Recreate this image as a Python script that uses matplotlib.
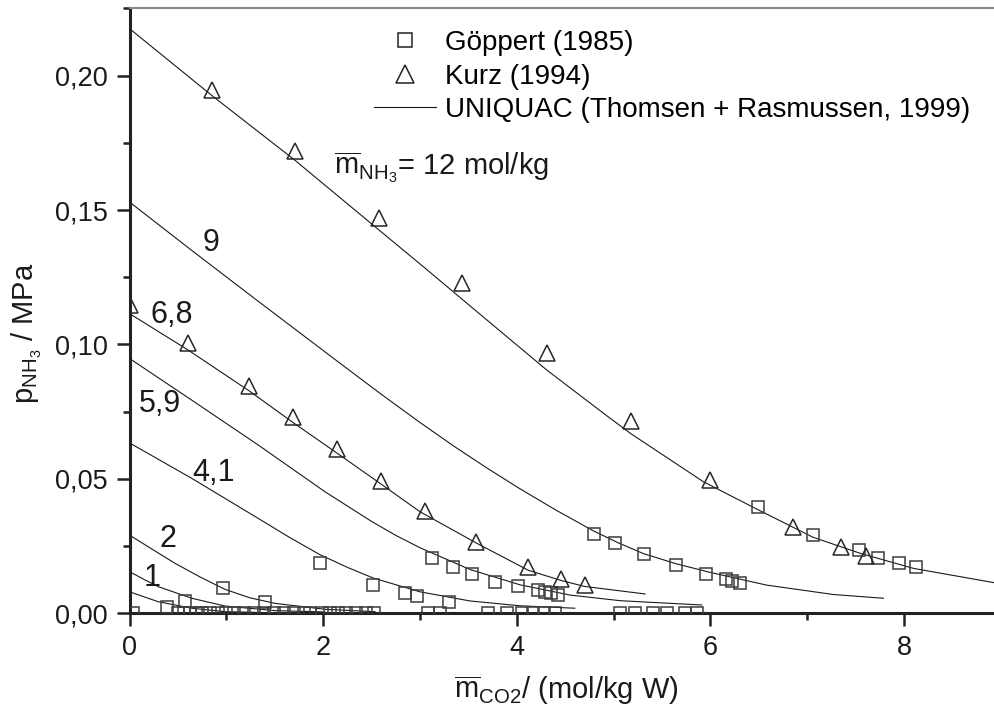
import matplotlib
matplotlib.use("Agg")
import matplotlib.pyplot as plt
from matplotlib.ticker import MultipleLocator, FuncFormatter
from matplotlib.lines import Line2D

plt.rcParams['font.family'] = 'Liberation Sans'
plt.rcParams['mathtext.fontset'] = 'custom'
plt.rcParams['mathtext.rm'] = 'Liberation Sans'
plt.rcParams['mathtext.it'] = 'Liberation Sans:italic'
plt.rcParams['mathtext.bf'] = 'Liberation Sans:bold'

# Göppert (1985): points above the axis
goeppert_x = [0.384, 0.573, 0.969, 1.40, 1.968, 2.519, 2.846, 2.97, 3.30,
              3.12, 3.34, 3.535, 3.78, 4.016, 4.22, 4.29, 4.35, 4.43,
              4.80, 5.01, 5.31, 5.64, 5.95, 6.16, 6.22, 6.31,
              6.496, 7.058, 7.54, 7.735, 7.95, 8.125]
goeppert_y = [0.0022, 0.0046, 0.0093, 0.0043, 0.0186, 0.0105, 0.0074, 0.0064, 0.0041,
              0.0204, 0.0173, 0.0146, 0.0115, 0.0103, 0.0086, 0.0078, 0.0074, 0.0069,
              0.0295, 0.0262, 0.0220, 0.0180, 0.0146, 0.0126, 0.0120, 0.0112,
              0.0394, 0.0291, 0.0235, 0.0204, 0.0186, 0.0171]

# Göppert (1985): points lying on p = 0
goeppert_zero_x = [0.036, 0.50, 0.56, 0.625, 0.687, 0.749, 0.832, 0.914, 0.997,
                   1.08, 1.183, 1.286, 1.39, 1.493, 1.596, 1.70, 1.80, 1.865,
                   1.99, 2.07, 2.154, 2.236, 2.34, 2.443, 2.526, 3.084, 3.208,
                   3.704, 3.90, 4.055, 4.168, 4.282, 4.396,
                   5.067, 5.222, 5.408, 5.553, 5.739, 5.863]
goeppert_zero_y = [0.0003] * len(goeppert_zero_x)

# Kurz (1994)
kurz_x = [0.0, 0.607, 1.234, 1.692, 2.147, 2.598, 3.053, 3.58, 4.12, 4.46, 4.70,
          0.855, 1.71, 2.58, 3.43, 4.31, 5.178, 6.0, 6.85, 7.35, 7.605]
kurz_y = [0.1146, 0.1006, 0.0846, 0.0731, 0.0611, 0.0492, 0.0381, 0.0266, 0.0173,
          0.0126, 0.0105,
          0.1945, 0.1720, 0.1472, 0.1227, 0.0967, 0.0716, 0.0495, 0.0322, 0.0248,
          0.0213]

# UNIQUAC (Thomsen + Rasmussen, 1999), one curve per NH3 molality
uq12_x = [0, 0.855, 1.71, 2.58, 3.05, 3.43, 4.31, 4.93, 5.18, 5.93, 6.50,
          7.06, 7.55, 8.10, 8.93]
uq12_y = [0.2175, 0.1925, 0.1685, 0.1425, 0.1285, 0.1170, 0.0905, 0.0735, 0.0668,
          0.0489, 0.0384, 0.0283, 0.0223, 0.0167, 0.0114]
uq9_x = [0, 0.65, 1.314, 2.157, 2.6, 3.0, 3.35, 3.69, 4.03, 4.4, 4.79, 5.05, 5.31,
         5.64, 6.0, 6.58, 7.27, 7.787]
uq9_y = [0.1530, 0.1348, 0.1165, 0.0935, 0.0815, 0.0710, 0.0622, 0.0541, 0.0464,
         0.0385, 0.0307, 0.0262, 0.0222, 0.0185, 0.0152, 0.0105, 0.0070, 0.0056]
uq68_x = [0, 0.607, 1.234, 1.692, 2.147, 2.598, 3.0, 3.58, 4.12, 4.46, 4.70, 5.325]
uq68_y = [0.1115, 0.0979, 0.0828, 0.0709, 0.0595, 0.0481, 0.0378, 0.0262, 0.0160,
          0.0122, 0.0100, 0.0072]
uq59_x = [0, 0.643, 1.33, 2.02, 2.5, 2.75, 3.0, 3.517, 4.034, 4.55, 5.067, 5.91]
uq59_y = [0.0948, 0.0793, 0.0626, 0.0452, 0.0342, 0.0290, 0.0244, 0.0163, 0.0106,
          0.0068, 0.0047, 0.0031]
uq41_x = [0, 0.643, 1.33, 1.65, 1.968, 2.25, 2.519, 3.0, 3.517, 4.034, 4.6]
uq41_y = [0.0634, 0.0502, 0.0353, 0.0283, 0.0218, 0.0171, 0.0131, 0.0080, 0.0046,
          0.0028, 0.0019]
uq2_x = [0, 0.24, 0.47, 0.73, 0.987, 1.24, 1.503, 2.02, 2.536]
uq2_y = [0.0291, 0.0237, 0.0186, 0.0135, 0.0089, 0.0058, 0.0037, 0.0015, 0.0006]
uq1_x = [0, 0.15, 0.298, 0.643, 0.987, 1.503, 2.02]
uq1_y = [0.0155, 0.0126, 0.0099, 0.0056, 0.0027, 0.0010, 0.0005]
uq05_x = [0, 0.298, 0.643, 0.987, 1.5]
uq05_y = [0.0080, 0.0043, 0.0019, 0.0006, 0.0002]

curve_labels = ["9", "6,8", "5,9", "4,1", "2", "1"]
curve_label_x = [0.842, 0.436, 0.315, 0.866, 0.401, 0.230]
curve_label_y = [0.1378, 0.1109, 0.0778, 0.0523, 0.0275, 0.0130]

fig = plt.figure(figsize=(9.94, 7.18), dpi=100)
ax = fig.add_axes([0.1303, 0.1458, 0.8697, 0.9882 - 0.1458])

curves = [(uq12_x, uq12_y), (uq9_x, uq9_y), (uq68_x, uq68_y), (uq59_x, uq59_y),
          (uq41_x, uq41_y), (uq2_x, uq2_y), (uq1_x, uq1_y), (uq05_x, uq05_y)]
for cx, cy in curves:
    ax.plot(cx, cy, color='#1a1a1a', lw=0.8, zorder=2)

sq_style = dict(ls='none', marker='s', ms=8.6, mfc='none', mec='#3c3c3c', mew=1.1, zorder=3)
ax.plot(goeppert_x, goeppert_y, **sq_style)
ax.plot(goeppert_zero_x, goeppert_zero_y, **sq_style)
ax.plot(kurz_x, kurz_y, ls='none', marker='^', ms=11, mfc='none', mec='#262626',
        mew=1.1, zorder=3)

for txt, tx, ty in zip(curve_labels, curve_label_x, curve_label_y):
    ax.text(tx, ty, txt, fontsize=22, ha='center', va='center', color='#1a1a1a')
ax.text(2.11, 0.166, r'$\overline{\mathrm{m}}_{\mathrm{NH_3}}$= 12 mol/kg', fontsize=21,
        ha='left', va='center', color='#1a1a1a')

ax.set_xlim(0, 8.93)
ax.set_ylim(0, 0.225)
ax.xaxis.set_major_locator(MultipleLocator(2))
ax.xaxis.set_minor_locator(MultipleLocator(1))
ax.yaxis.set_major_locator(MultipleLocator(0.05))
ax.yaxis.set_minor_locator(MultipleLocator(0.025))
ax.yaxis.set_major_formatter(FuncFormatter(lambda v, p: f"{v:.2f}".replace('.', ',')))
ax.xaxis.set_major_formatter(FuncFormatter(lambda v, p: f"{v:.0f}"))

ax.tick_params(which='major', direction='out', length=9.5, width=1.8, color='#222222',
               labelsize=19.5, pad=6, labelcolor='#1a1a1a')
ax.tick_params(which='minor', direction='out', length=5, width=1.8, color='#222222')

ax.spines['right'].set_visible(False)
ax.spines['top'].set_color('#888888')
ax.spines['top'].set_linewidth(1.5)
for s in ('left', 'bottom'):
    ax.spines[s].set_color('#222222')
    ax.spines[s].set_linewidth(2.2)

ax.set_xlabel(r'$\overline{\mathrm{m}}_{\mathrm{CO2}}$/ (mol/kg W)', fontsize=21, color='#1a1a1a')
ax.set_ylabel(r'$\mathrm{p_{NH_3}}$ / MPa', fontsize=21, color='#1a1a1a')
ax.xaxis.set_label_coords(0.505, -0.1)
ax.yaxis.set_label_coords(-0.099, 0.463)

handles = [
    Line2D([], [], ls='none', marker='s', ms=10.5, mfc='none', mec='#222222', mew=1.1),
    Line2D([], [], ls='none', marker='^', ms=13.5, mfc='none', mec='#222222', mew=1.1),
    Line2D([], [], color='#1a1a1a', lw=0.8),
]
fig.legend(handles, ["Göppert (1985)", "Kurz (1994)", "UNIQUAC (Thomsen + Rasmussen, 1999)"],
           loc='upper left', bbox_to_anchor=(374 / 994, 1 - 30 / 718), frameon=False,
           fontsize=20, handlelength=2.23, handletextpad=0.32, labelspacing=0.27,
           borderpad=0, borderaxespad=0)

fig.savefig("out.png", dpi=100)
